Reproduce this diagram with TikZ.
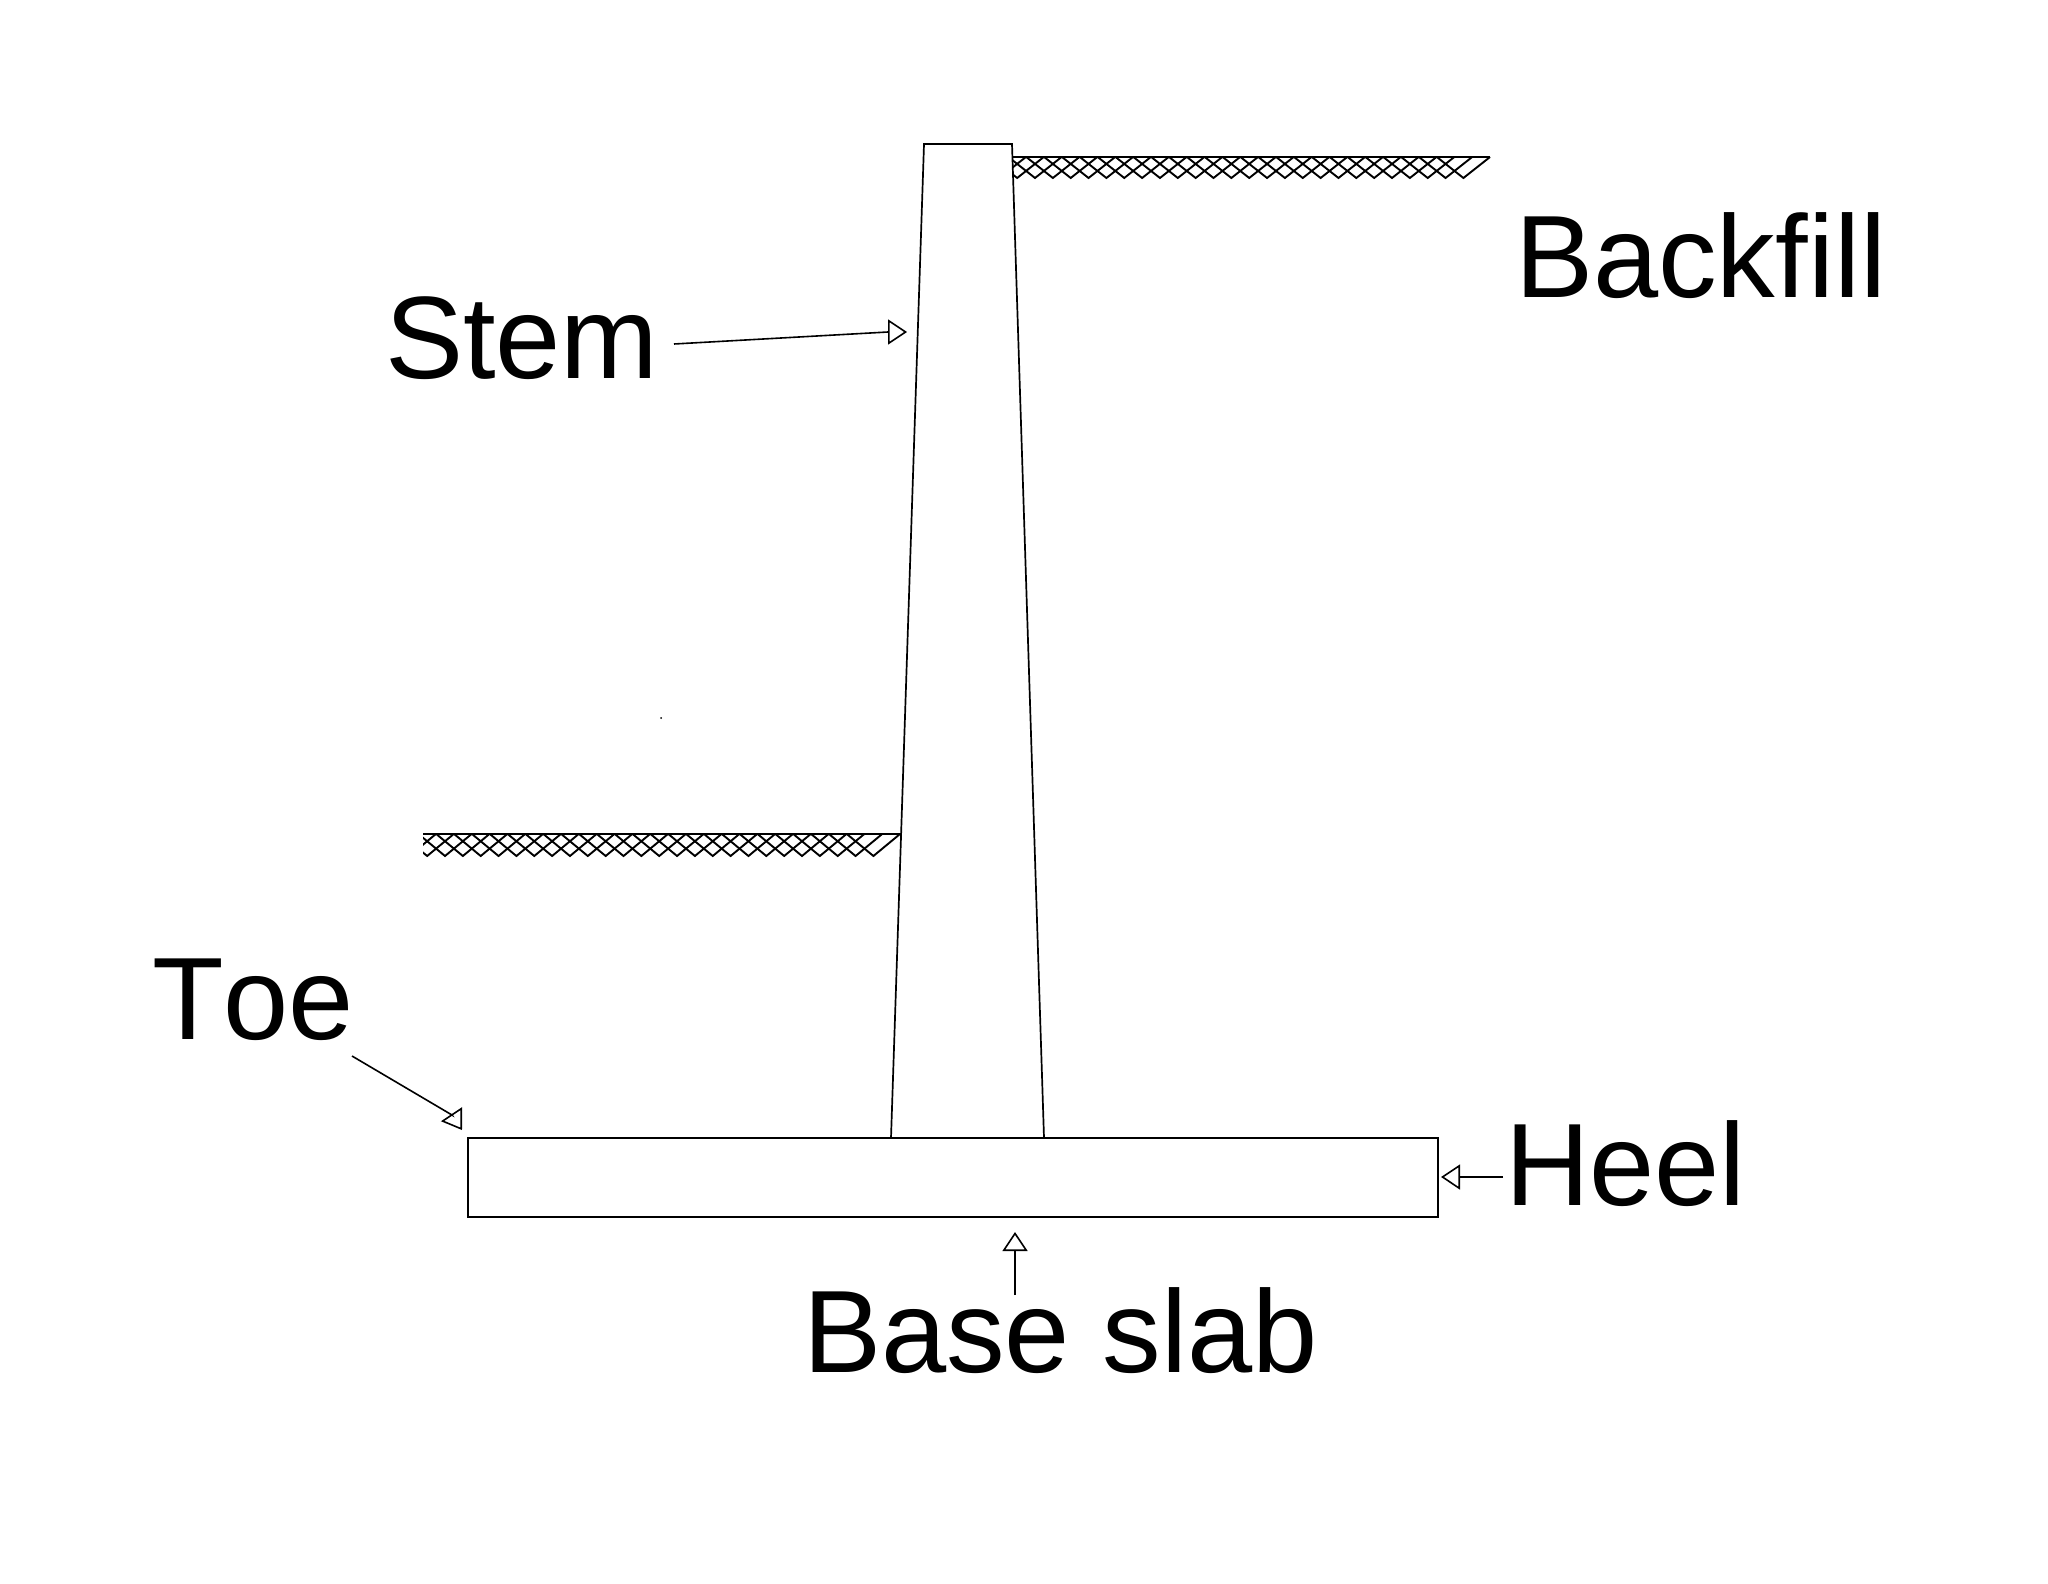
\documentclass[tikz,border=0pt]{standalone}
\usepackage{fontspec}
\setmainfont[Kerning=Off]{Liberation Sans}
\usetikzlibrary{arrows.meta}
\tikzset{
  x=0.5pt,y=-0.5pt,
  wall/.style={draw=black,line width=0.85pt,line join=miter},
  label/.style={inner sep=0pt,outer sep=0pt,anchor=base west,font=\fontsize{58.6pt}{60pt}\selectfont,text=black},
  pointer/.style={draw=black,line width=0.8pt,-{Triangle[open,length=9.5pt,width=12.5pt,line width=0.8pt]}},
  hatchline/.style={draw=black,line width=0.95pt},
  groundline/.style={draw=black,line width=0.95pt}
}
\newcommand{\groundhatch}[6]{% x-left, x-right, y-top, y-bot, v0, count
  \begin{scope}
    \clip (#1,#3-1) rectangle (#2+2,#4+2);
    \foreach \k in {0,...,#6}{
      \pgfmathsetmacro\vx{#5-17.85*\k}
      \pgfmathsetmacro\ax{\vx-26.6}
      \pgfmathsetmacro\bx{\vx+26.6}
      \draw[hatchline] (\ax,#3) -- (\vx,#4) -- (\bx,#3);
    }
  \end{scope}
  \draw[groundline] (#1,#3) -- (#2,#3);
}
\begin{document}
\begin{tikzpicture}
\useasboundingbox (0,0) rectangle (2048,1583);
\fill[white] (0,0) rectangle (2048,1583);

% stem
\coordinate (stemTL) at (924,144);
\coordinate (stemTR) at (1012,144);
\coordinate (stemBL) at (891,1138);
\coordinate (stemBR) at (1044,1138);
\draw[wall] (stemBL) -- (stemTL) -- (stemTR) -- (stemBR);

% base slab
\node[wall,rectangle,minimum width=485pt,minimum height=39.5pt,inner sep=0pt,outer sep=0pt,anchor=north west] (slab) at (468,1138) {};

% ground surfaces
\groundhatch{1013}{1490}{157}{178}{1463.4}{26}
\groundhatch{423}{901}{834}{856}{873.4}{26}

% labels
\node[label] (backfill) at (1515,298) {Backfill};
\node[label] (stem) at (385,379) {Stem};
\node[label] (toe) at (152,1039) {Toe};
\node[label] (heel) at (1505,1205) {Heel};
\node[label] (baseslab) at (803,1372) {Base slab};

% stray dot
\fill[black] (661,718) circle (0.5pt);

% arrows
\coordinate (stemFrom) at (674,344);
\coordinate (stemKnee) at (888,332);
\coordinate (stemTo) at (907,332);
\coordinate (toeFrom) at (352,1056);
\coordinate (toeKnee) at (452,1115);
\coordinate (toeTo) at (462,1130);
\coordinate (heelFrom) at (1503,1177);
\coordinate (heelTo) at (1441,1177);
\coordinate (baseFrom) at (1015,1295);
\coordinate (baseTo) at (1015,1232);
\draw[pointer] (stemFrom) -- (stemKnee) -- (stemTo);
\draw[pointer] (toeFrom) -- (toeKnee) -- (toeTo);
\draw[pointer] (heelFrom) -- (heelTo);
\draw[pointer] (baseFrom) -- (baseTo);
\end{tikzpicture}
\end{document}
